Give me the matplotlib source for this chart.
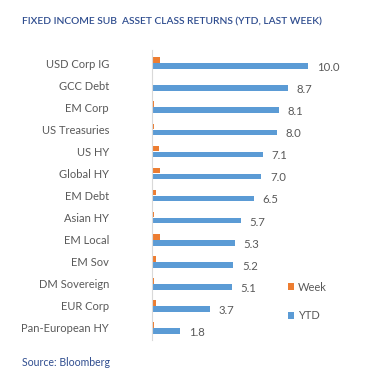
import matplotlib
matplotlib.use("Agg")
import matplotlib.pyplot as plt
import numpy as np

plt.rcParams['font.family'] = ['Lato', 'DejaVu Sans']

categories = ["USD Corp IG", "GCC Debt", "EM Corp", "US Treasuries", "US HY", "Global HY",
              "EM Debt", "Asian HY", "EM Local", "EM Sov", "DM Sovereign", "EUR Corp",
              "Pan-European HY"]
ytd = [10.0, 8.7, 8.1, 8.0, 7.1, 7.0, 6.5, 5.7, 5.3, 5.2, 5.1, 3.7, 1.8]
week = [0.5, 0.0, 0.1, 0.1, 0.45, 0.5, 0.25, 0.1, 0.5, 0.25, 0.15, 0.25, 0.15]

BLUE = "#5B9BD5"
ORANGE = "#ED7D31"
GREY = "#595959"
NAVY = "#2F4D8F"

fig = plt.figure(figsize=(3.75, 3.73), dpi=100)
ax = fig.add_axes([152/375, 1 - 340/373, 208/375, 290/373])

y = np.arange(len(categories))
h = 0.26
ax.barh(y - 0.135, week, height=h, color=ORANGE, label="Week")
ax.barh(y + 0.135, ytd, height=h, color=BLUE, label="YTD")

for yi, v in zip(y, ytd):
    ax.text(v + 0.55, yi + 0.2, f"{v:.1f}", va="center", ha="left", fontsize=8.2, color=GREY)

ax.set_yticks(y)
ax.set_yticklabels(categories, fontsize=8.0, color=GREY)
ax.set_ylim(len(categories) - 0.45, -0.6)
ax.set_xlim(0, 13.3)
ax.set_xticks([])
ax.tick_params(axis="y", length=0, pad=31)
for s in ["top", "right", "bottom"]:
    ax.spines[s].set_visible(False)
ax.spines["left"].set_color("#D9D9D9")
ax.spines["left"].set_linewidth(0.8)

ax.legend(loc="upper left", bbox_to_anchor=(282/375, 1 - 276/373), bbox_transform=fig.transFigure,
          frameon=False, fontsize=8, labelcolor=GREY, handlelength=0.6, handleheight=0.6,
          handletextpad=0.3, labelspacing=1.6, borderpad=0)

fig.text(22/375, 1 - 22/373, "FIXED INCOME SUB  ASSET CLASS RETURNS (YTD, LAST WEEK)",
         fontsize=7.4, color=NAVY, va="center", ha="left", fontweight="semibold")
fig.text(22/375, 1 - 363/373, "Source: Bloomberg", fontsize=7.6, color=NAVY, va="center", ha="left")

fig.savefig("out.png", dpi=100, facecolor="white")
